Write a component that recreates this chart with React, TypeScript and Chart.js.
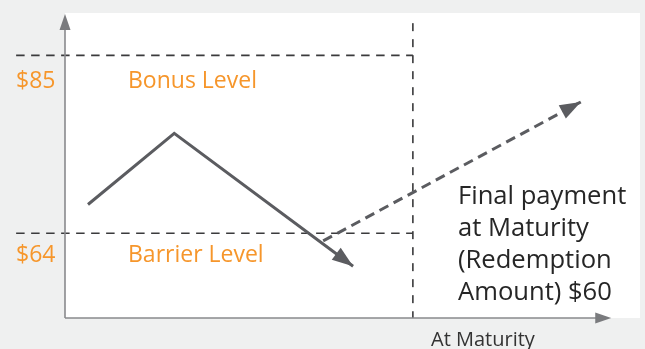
import React, { useEffect, useRef } from 'react';
import { Chart, registerables } from 'chart.js';

Chart.register(...registerables);

// ---- data (value space) ----
const levelValues = [85, 64];
const levelLabels = ['$85', '$64'];
const levelNames = ['Bonus Level', 'Barrier Level'];
const levelLineStartX = -8.5;
const maturityX = 60.5;
const maturityTopY = 88.8;
const pricePathX = [4, 19, 50.1];
const pricePathY = [67.4, 75.8, 60.1];
const projectionX = [44.9, 89.7];
const projectionY = [63.1, 79.5];
const finalPaymentLines = ['Final payment', 'at Maturity', '(Redemption', 'Amount) $60'];
const xAxisLabel = 'At Maturity';
const xAxisEndX = 95;
const yMin = 54;
const yMax = 90;
const xMin = 0;
const xMax = 100;

const FONT = '"Open Sans", "DejaVu Sans", sans-serif';
const ORANGE = '#f6962b';
const DARK = '#5b5c60';
const AXIS = '#898a8d';
const DASH = '#3a3a3c';
const TEXT = '#262626';

function arrowHead(ctx: CanvasRenderingContext2D, fx: number, fy: number, tx: number, ty: number, len: number, half: number, color: string) {
  const a = Math.atan2(ty - fy, tx - fx);
  const bx = tx - len * Math.cos(a);
  const by = ty - len * Math.sin(a);
  const px = -Math.sin(a) * half;
  const py = Math.cos(a) * half;
  ctx.beginPath();
  ctx.moveTo(tx, ty);
  ctx.lineTo(bx + px, by + py);
  ctx.lineTo(bx - px, by - py);
  ctx.closePath();
  ctx.fillStyle = color;
  ctx.fill();
}

const decorPlugin = {
  id: 'decor',
  beforeDraw(chart: any) {
    const { ctx, chartArea, width, height } = chart;
    ctx.save();
    ctx.fillStyle = '#eff0f0';
    ctx.fillRect(0, 0, width, height);
    ctx.fillStyle = '#ffffff';
    ctx.fillRect(chartArea.left, chartArea.top, chartArea.right - chartArea.left, chartArea.bottom - chartArea.top);
    ctx.restore();
  },
  afterDatasetsDraw(chart: any) {
    const { ctx, chartArea, scales } = chart;
    const xs = scales.x;
    const ys = scales.y;
    ctx.save();
    // axes
    const ox = chartArea.left;
    const oy = chartArea.bottom;
    ctx.strokeStyle = AXIS;
    ctx.lineWidth = 1.6;
    ctx.beginPath();
    ctx.moveTo(ox, oy);
    ctx.lineTo(ox, chartArea.top + 10);
    ctx.stroke();
    arrowHead(ctx, ox, oy, ox, chartArea.top + 1, 16, 5.5, '#7a7b7e');
    const xEnd = xs.getPixelForValue(xAxisEndX);
    ctx.beginPath();
    ctx.moveTo(ox, oy);
    ctx.lineTo(xEnd - 10, oy);
    ctx.stroke();
    arrowHead(ctx, ox, oy, xEnd, oy, 16, 5.5, '#7a7b7e');

    // arrowheads on paths
    const n = pricePathX.length;
    arrowHead(
      ctx,
      xs.getPixelForValue(pricePathX[n - 2]), ys.getPixelForValue(pricePathY[n - 2]),
      xs.getPixelForValue(pricePathX[n - 1]), ys.getPixelForValue(pricePathY[n - 1]),
      21, 7.5, DARK
    );
    const m = projectionX.length;
    arrowHead(
      ctx,
      xs.getPixelForValue(projectionX[m - 2]), ys.getPixelForValue(projectionY[m - 2]),
      xs.getPixelForValue(projectionX[m - 1]), ys.getPixelForValue(projectionY[m - 1]),
      21, 7.5, DARK
    );

    // texts
    ctx.textBaseline = 'alphabetic';
    ctx.textAlign = 'left';
    ctx.fillStyle = ORANGE;
    ctx.font = `23px ${FONT}`;
    levelValues.forEach((v, i) => {
      const py = ys.getPixelForValue(v) + 32.5;
      ctx.fillText(levelLabels[i], 16, py - (i === 1 ? 3.5 : 0));
      ctx.fillText(levelNames[i], 128, py - (i === 1 ? 3.5 : 0));
    });
    ctx.fillStyle = TEXT;
    ctx.font = `25.6px ${FONT}`;
    finalPaymentLines.forEach((t, i) => {
      ctx.fillText(t, 458, 204 + i * 32);
    });
    ctx.font = `20px ${FONT}`;
    ctx.fillStyle = '#333333';
    ctx.fillText(xAxisLabel, 431, 346);
    ctx.restore();
  },
};

export default function App() {
  const ref = useRef<HTMLCanvasElement | null>(null);
  useEffect(() => {
    document.body.style.margin = '0';
    const canvas = ref.current;
    if (!canvas) return;
    const levelDatasets = levelValues.map((v) => ({
      data: [
        { x: levelLineStartX, y: v },
        { x: maturityX, y: v },
      ],
      borderColor: DASH,
      borderWidth: 1.6,
      borderDash: [8.5, 6.5],
      pointRadius: 0,
      clip: false as any,
      order: 3,
    }));
    const chart = new Chart(canvas, {
      type: 'line',
      data: {
        datasets: [
          ...levelDatasets,
          {
            data: [
              { x: maturityX, y: maturityTopY },
              { x: maturityX, y: yMin },
            ],
            borderColor: DASH,
            borderWidth: 1.6,
            borderDash: [8, 8],
            pointRadius: 0,
            clip: false as any,
            order: 3,
          },
          {
            data: projectionX.map((x, i) => ({ x, y: projectionY[i] })),
            borderColor: DARK,
            borderWidth: 3,
            borderDash: [10, 6],
            pointRadius: 0,
            clip: false as any,
            order: 2,
          },
          {
            data: pricePathX.map((x, i) => ({ x, y: pricePathY[i] })),
            borderColor: DARK,
            borderWidth: 3,
            pointRadius: 0,
            borderJoinStyle: 'miter',
            clip: false as any,
            order: 1,
          },
        ] as any,
      },
      options: {
        animation: false,
        responsive: false,
        devicePixelRatio: 1,
        layout: { padding: { left: 65, top: 13, right: 5, bottom: 31 } },
        plugins: { legend: { display: false }, tooltip: { enabled: false } },
        elements: { line: { tension: 0 } },
        scales: {
          x: { type: 'linear', min: xMin, max: xMax, display: false },
          y: { type: 'linear', min: yMin, max: yMax, display: false },
        },
      },
      plugins: [decorPlugin],
    });
    return () => chart.destroy();
  }, []);
  return (
    <div style={{ position: 'absolute', left: 0, top: 0, width: 645, height: 349 }}>
      <canvas ref={ref} width={645} height={349} />
    </div>
  );
}
